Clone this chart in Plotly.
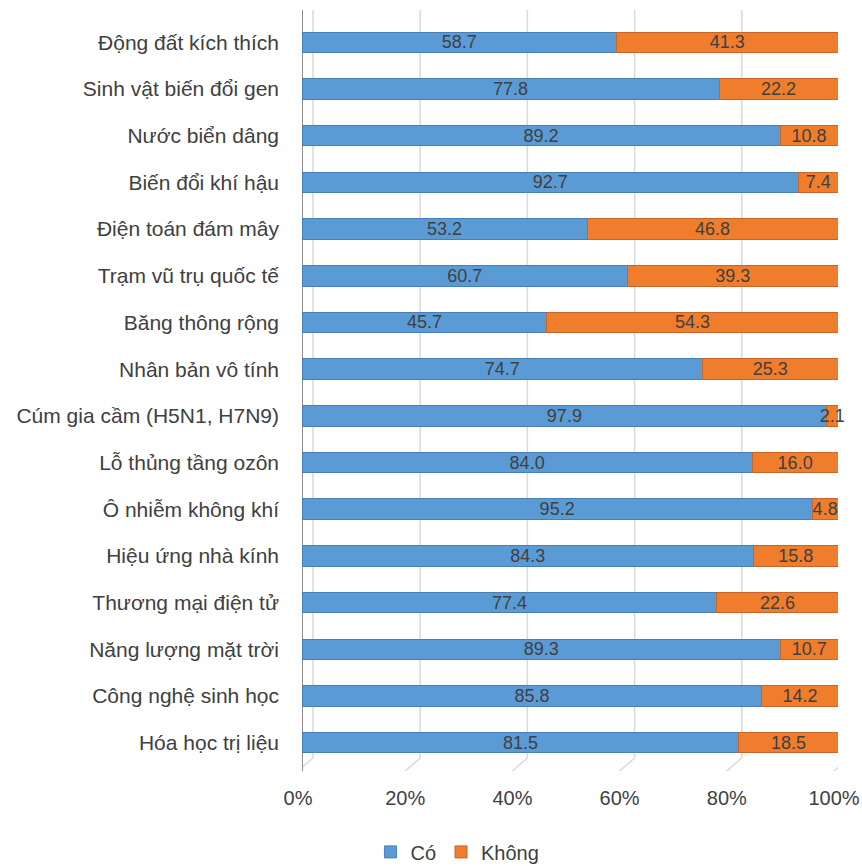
import plotly.graph_objects as go

categories = [
    "Động đất kích thích", "Sinh vật biến đổi gen", "Nước biển dâng", "Biến đổi khí hậu",
    "Điện toán đám mây", "Trạm vũ trụ quốc tế", "Băng thông rộng", "Nhân bản vô tính",
    "Cúm gia cầm (H5N1, H7N9)", "Lỗ thủng tầng ozôn", "Ô nhiễm không khí", "Hiệu ứng nhà kính",
    "Thương mại điện tử", "Năng lượng mặt trời", "Công nghệ sinh học", "Hóa học trị liệu",
]
co = [58.7, 77.8, 89.2, 92.7, 53.2, 60.7, 45.7, 74.7, 97.9, 84.0, 95.2, 84.3, 77.4, 89.3, 85.8, 81.5]
khong = [41.3, 22.2, 10.8, 7.4, 46.8, 39.3, 54.3, 25.3, 2.1, 16.0, 4.8, 15.8, 22.6, 10.7, 14.2, 18.5]
x_ticks = [0, 20, 40, 60, 80, 100]
x_tick_labels = ["0%", "20%", "40%", "60%", "80%", "100%"]

FONT = "Liberation Sans, Arial, sans-serif"
TXT = "#404040"

fig = go.Figure()
fig.add_trace(go.Bar(
    y=categories, x=co, orientation="h", name="Có",
    marker=dict(color="#5B9BD5", line=dict(color="#4A7FB5", width=1)),
    text=[f"{v:.1f}" for v in co], textposition="inside", insidetextanchor="middle",
    textangle=0, constraintext="none", cliponaxis=False,
    insidetextfont=dict(color=TXT, size=18, family=FONT),
))
fig.add_trace(go.Bar(
    y=categories, x=khong, orientation="h", name="Không",
    marker=dict(color="#F07D2C", line=dict(color="#C8652A", width=1)),
    text=[f"{v:.1f}" for v in khong], textposition="inside", insidetextanchor="middle",
    textangle=0, constraintext="none", cliponaxis=False,
    insidetextfont=dict(color=TXT, size=18, family=FONT),
))

shapes = []
for t in x_ticks:
    shapes.append(dict(type="line", xref="x", yref="paper", xsizemode="pixel", ysizemode="pixel",
                       xanchor=t, yanchor=0, x0=11, x1=11, y0=8, y1=756,
                       line=dict(color="#D9D9D9", width=1.5), layer="below"))
    shapes.append(dict(type="line", xref="x", yref="paper", xsizemode="pixel", ysizemode="pixel",
                       xanchor=t, yanchor=0, x0=11, x1=-4, y0=8, y1=-5,
                       line=dict(color="#D9D9D9", width=1.5), layer="below"))
# left wall
shapes.append(dict(type="rect", xref="x", yref="paper", xsizemode="pixel", ysizemode="pixel",
                   xanchor=0, yanchor=0, x0=-5, x1=1, y0=-5, y1=756,
                   fillcolor="#8C8C8C", line=dict(width=0), layer="below"))

fig.update_layout(
    width=862, height=866,
    margin=dict(l=302, r=24, t=19, b=100, autoexpand=False),
    paper_bgcolor="white", plot_bgcolor="white",
    barmode="stack", barnorm="percent", bargap=0.56,
    uniformtext=dict(minsize=18, mode="show"),
    font=dict(family=FONT, color=TXT, size=20),
    shapes=shapes,
    showlegend=True,
    legend=dict(orientation="h", x=0.29, xanchor="center", y=-0.115, yanchor="middle",
                font=dict(size=20, color=TXT, family=FONT), itemwidth=30, traceorder="normal"),
    xaxis=dict(range=[0, 100], tickvals=x_ticks, ticktext=x_tick_labels, showgrid=False,
               zeroline=False, showline=False, ticks="", ticklabelstandoff=18, automargin=False,
               ticklabelshift=-4, ticklabeloverflow="allow",
               tickfont=dict(size=20, color=TXT, family=FONT)),
    yaxis=dict(autorange="reversed", showgrid=False, zeroline=False, showline=False, automargin=False,
               ticks="", ticklabelstandoff=22, tickfont=dict(size=21, color=TXT, family=FONT)),
)

fig.write_html("out.html")
